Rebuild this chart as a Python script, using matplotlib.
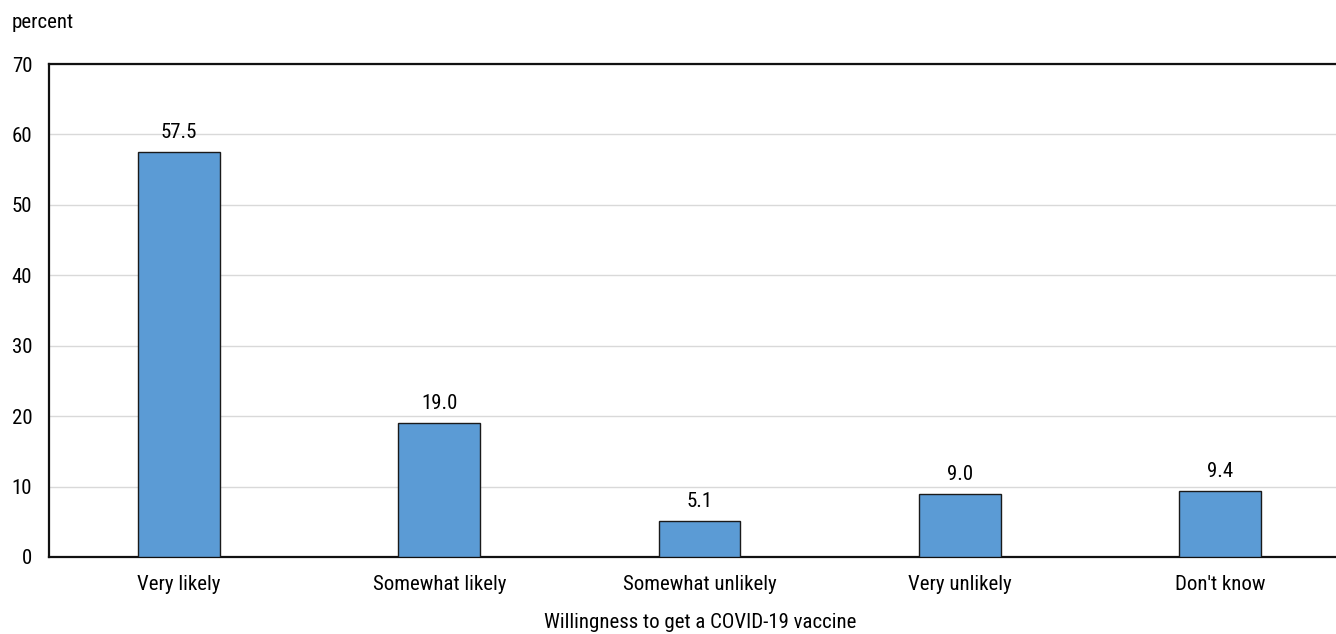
import matplotlib.pyplot as plt
import numpy as np
from matplotlib import font_manager

categories = ["Very likely", "Somewhat likely", "Somewhat unlikely",
              "Very unlikely", "Don't know"]
shares = [57.5, 19.0, 5.1, 9.0, 9.4]
y_ticks = [0, 10, 20, 30, 40, 50, 60, 70]

names = {f.name for f in font_manager.fontManager.ttflist}
family = "Roboto"
for candidate in ("Roboto Condensed", "Liberation Sans Narrow", "Arial Narrow"):
    if candidate in names:
        family = candidate
        break
size = 15 if family != "Roboto" else 13.5
plt.rcParams["font.family"] = [family, "DejaVu Sans"]
plt.rcParams["font.size"] = size

fig = plt.figure(figsize=(13.36, 6.34), dpi=100)
# plot area runs slightly past the right edge of the canvas
ax = fig.add_axes([49 / 1336, 1 - 557 / 634, 1301 / 1336, 493 / 634])

x = np.arange(len(categories))
ax.bar(x, shares, width=0.315, color="#5b9bd5", edgecolor="#1a1a1a",
       linewidth=1.0, zorder=3)
for xi, v in zip(x, shares):
    ax.text(xi, v + 1.4, f"{v:.1f}", ha="center", va="bottom")

ax.set_xlim(-0.5, len(categories) - 0.5)
ax.set_ylim(0, 70)
ax.set_yticks(y_ticks)
ax.set_xticks(x, categories)
ax.yaxis.grid(True, color="#d9d9d9", linewidth=1.0, zorder=0)
ax.tick_params(length=0)
ax.tick_params(axis="y", pad=12)
ax.tick_params(axis="x", pad=13)
for side in ("left", "bottom", "top"):
    ax.spines[side].set_linewidth(1.6)
    ax.spines[side].set_color("#111111")
ax.spines["right"].set_visible(False)

fig.text(700 / 1336, 1 - 622 / 634, "Willingness to get a COVID-19 vaccine",
         ha="center", va="center")
fig.text(12 / 1336, 1 - 22 / 634, "percent", ha="left", va="center")

fig.savefig("out.png", dpi=100)
